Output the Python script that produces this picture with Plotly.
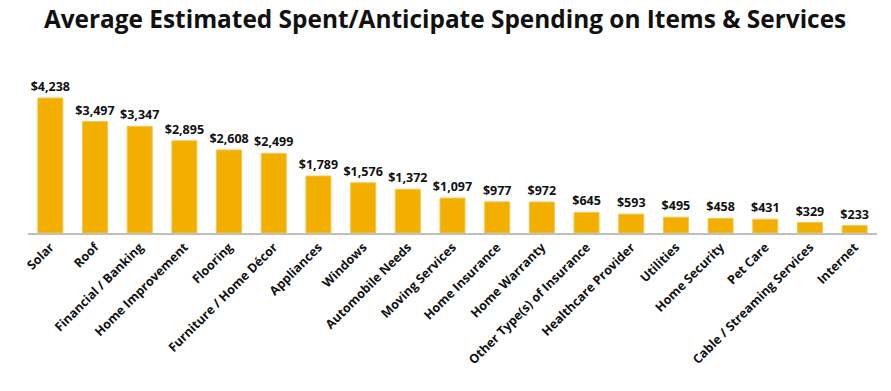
import plotly.graph_objects as go

categories = ["Solar", "Roof", "Financial / Banking", "Home Improvement", "Flooring",
              "Furniture / Home Décor", "Appliances", "Windows", "Automobile Needs",
              "Moving Services", "Home Insurance", "Home Warranty",
              "Other Type(s) of Insurance", "Healthcare Provider", "Utilities",
              "Home Security", "Pet Care", "Cable / Streaming Services", "Internet"]
values = [4238, 3497, 3347, 2895, 2608, 2499, 1789, 1576, 1372, 1097, 977, 972,
          645, 593, 495, 458, 431, 329, 233]

fig = go.Figure(go.Bar(
    x=categories, y=values,
    marker=dict(color="#F2AF00", line=dict(color="#F6C64A", width=1)),
    texttemplate="$%{y:,}", textposition="outside", cliponaxis=False,
    constraintext="none",
    textfont=dict(family="Open Sans", size=12.5, color="#111111", weight="bold"),
))

fig.update_layout(
    width=891, height=391,
    margin=dict(l=28, r=14, t=70, b=158),
    paper_bgcolor="white", plot_bgcolor="white",
    bargap=0.44,
    showlegend=False,
    title=dict(text="<b>Average Estimated Spent/Anticipate Spending on Items & Services</b>",
               x=0.4995, xanchor="center", y=0.949, yanchor="middle",
               font=dict(family="Open Sans", size=24.4, color="#111111")),
)
fig.update_xaxes(tickangle=-45, showline=True, linecolor="#BFBFBF", linewidth=2,
                 ticks="", automargin=False,
                 tickfont=dict(family="Open Sans", size=12.5, color="#111111", weight="bold"),
                 fixedrange=True)
fig.update_yaxes(visible=False, range=[0, 5116], showgrid=False, fixedrange=True,
                 automargin=False)

fig.write_html("out.html",
               config={"displayModeBar": False, "staticPlot": True},
               post_script="document.body.style.margin='0';document.body.style.overflow='hidden';")
